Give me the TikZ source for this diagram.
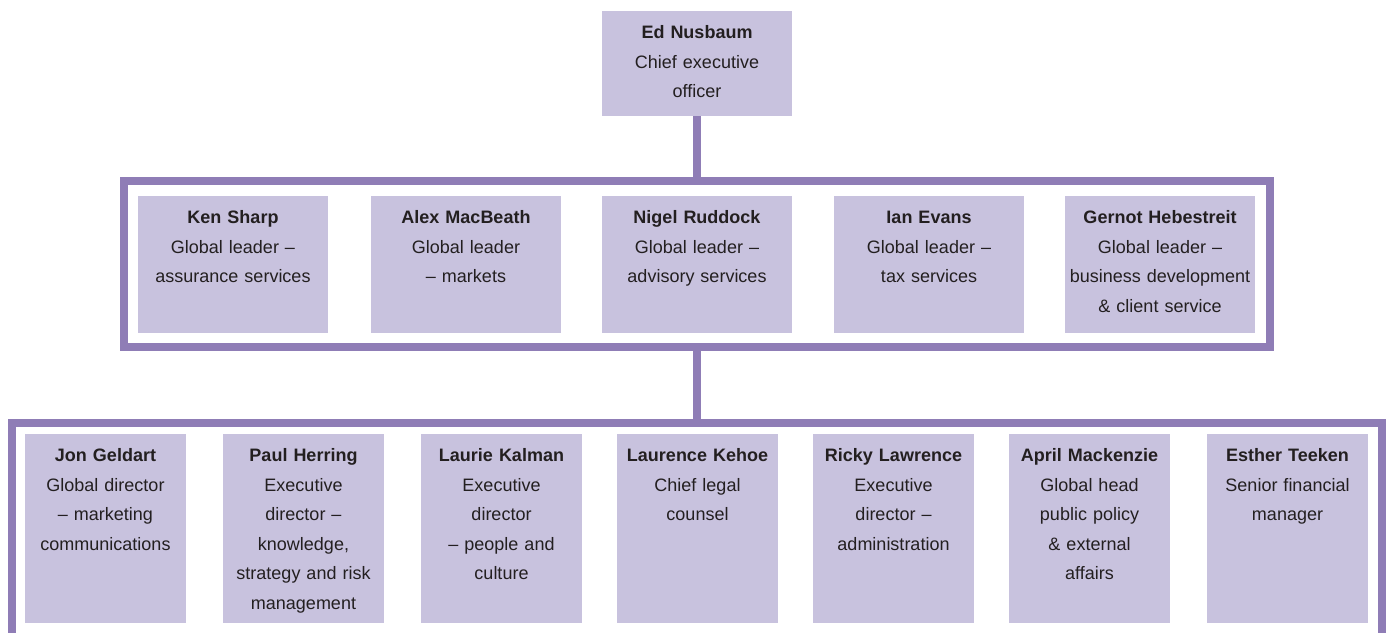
\documentclass[tikz,border=0pt]{standalone}
\usepackage{fontspec}
\setmainfont{Liberation Sans}
\usetikzlibrary{positioning}
\definecolor{boxfill}{RGB}{200,194,222}
\definecolor{framepurple}{RGB}{143,125,182}
\definecolor{inkgrey}{RGB}{35,31,32}
\tikzstyle{person}=[anchor=north,fill=boxfill,text=inkgrey,align=center,inner sep=0pt,text height=27.5bp,font=\fontsize{18bp}{29.5bp}\selectfont]
\tikzstyle{ceobox}=[person,text width=190bp,text depth=77.5bp]
\tikzstyle{leaderbox}=[person,text width=190bp,text depth=109.5bp]
\tikzstyle{directorbox}=[person,text width=161bp,text depth=161.5bp]
\tikzstyle{frame}=[draw=framepurple,line width=8bp,inner sep=0pt]
\tikzstyle{link}=[draw=framepurple,line width=8bp]

\begin{document}
\begin{tikzpicture}[x=1bp,y=-1bp]
\useasboundingbox (0,0) rectangle (1389,633);

%Chief executive
    \node[ceobox] (nusbaum) at (697,11) {\textbf{Ed Nusbaum}\\Chief executive\\officer};

%Global leaders
    \node[frame,minimum width=1145bp,minimum height=166bp] (leaders) at (697,264) {};
    \foreach \pos/\name/\label in {{(233,196)/sharp/{\textbf{Ken Sharp}\\Global leader --\\assurance services}},
        {(466,196)/macbeath/{\textbf{Alex MacBeath}\\Global leader\\-- markets}},
        {(697,196)/ruddock/{\textbf{Nigel Ruddock}\\Global leader --\\advisory services}},
        {(929,196)/evans/{\textbf{Ian Evans}\\Global leader --\\tax services}},
        {(1160,196)/hebestreit/{\textbf{Gernot Hebestreit}\\Global leader --\\business development\\\& client service}}}
        \node[leaderbox] (\name) at \pos {\label};

%Directors
    \node[frame,minimum width=1370bp,minimum height=250bp,anchor=north] (directors) at (697,419) {};
    \foreach \pos/\name/\label in {{(105.5,434)/geldart/{\textbf{Jon Geldart}\\Global director\\-- marketing\\communications}},
        {(303.5,434)/herring/{\textbf{Paul Herring}\\Executive\\director --\\knowledge,\\strategy and risk\\management}},
        {(501.5,434)/kalman/{\textbf{Laurie Kalman}\\Executive\\director\\-- people and\\culture}},
        {(697.5,434)/kehoe/{\textbf{Laurence Kehoe}\\Chief legal\\counsel}},
        {(893.5,434)/lawrence/{\textbf{Ricky Lawrence}\\Executive\\director --\\administration}},
        {(1089.5,434)/mackenzie/{\textbf{April Mackenzie}\\Global head\\public policy\\\& external\\affairs}},
        {(1287.5,434)/teeken/{\textbf{Esther Teeken}\\Senior financial\\manager}}}
        \node[directorbox] (\name) at \pos {\label};

  \draw[link] (nusbaum.south) -- (leaders.north);
  \draw[link] (leaders.south) -- (directors.north);

\end{tikzpicture}
\end{document}
